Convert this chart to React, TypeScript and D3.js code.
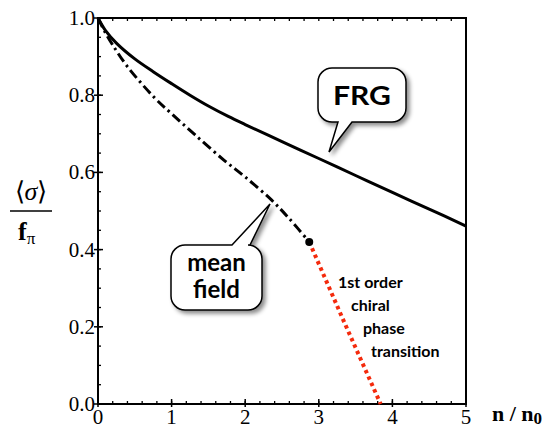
import React from "react";
import * as d3 from "d3";

const frgX = [0, 0.1, 0.25, 0.5, 0.75, 1.0, 1.25, 1.5, 1.77, 2.0, 2.5, 3.0, 3.5, 4.0, 4.5, 5.0];
const frgY = [1.0, 0.968, 0.935, 0.894, 0.861, 0.830, 0.800, 0.772, 0.745, 0.724, 0.680, 0.636, 0.592, 0.548, 0.505, 0.461];

const mfX = [0, 0.1, 0.2, 0.4, 0.77, 1.0, 1.32, 1.71, 2.0, 2.36, 2.6, 2.87];
const mfY = [1.0, 0.962, 0.930, 0.874, 0.793, 0.752, 0.697, 0.632, 0.588, 0.528, 0.480, 0.42];

const trX = [2.87, 3.35, 3.84];
const trY = [0.42, 0.21, 0.0];

const xTicks = [0, 1, 2, 3, 4, 5];
const yTicks = [0.0, 0.2, 0.4, 0.6, 0.8, 1.0];
const transitionLines = ["1st order", "chiral", "phase", "transition"];

const W = 558, H = 429;
const x = d3.scaleLinear().domain([0, 5]).range([98, 466]);
const y = d3.scaleLinear().domain([0, 1]).range([404, 18]);

const serif = "'Liberation Serif', 'Times New Roman', serif";
const sans = "Lato, 'Open Sans', sans-serif";

export default function App() {
  const line = d3
    .line<[number, number]>()
    .x((d) => x(d[0]))
    .y((d) => y(d[1]))
    .curve(d3.curveCatmullRom.alpha(0.5));
  const frgPath = line(frgX.map((v, i) => [v, frgY[i]]) as [number, number][]) || "";
  const mfPath = line(mfX.map((v, i) => [v, mfY[i]]) as [number, number][]) || "";
  const trPath =
    d3
      .line<[number, number]>()
      .x((d) => x(d[0]))
      .y((d) => y(d[1]))(trX.map((v, i) => [v, trY[i]]) as [number, number][]) || "";

  const minorY = d3.range(0, 1.0001, 0.05);
  const minorX = d3.range(0, 5.0001, 0.2);

  const x0 = x(0), x1 = x(5), y0 = y(0), y1 = y(1);

  const r = 14;
  const frgBubble = (() => {
    const L = 318, R = 406, T = 68, B = 122;
    return `M${L + r},${T} L${R - r},${T} A${r},${r} 0 0 1 ${R},${T + r} L${R},${B - r} A${r},${r} 0 0 1 ${R - r},${B} L352,${B} L329,152 L338,${B} L${L + r},${B} A${r},${r} 0 0 1 ${L},${B - r} L${L},${T + r} A${r},${r} 0 0 1 ${L + r},${T} Z`;
  })();
  const mfBubble = (() => {
    const L = 171, R = 262, T = 245, B = 310;
    return `M${L + r},${T} L232,${T} L270,204 L250,${T} L${R - r},${T} A${r},${r} 0 0 1 ${R},${T + r} L${R},${B - r} A${r},${r} 0 0 1 ${R - r},${B} L${L + r},${B} A${r},${r} 0 0 1 ${L},${B - r} L${L},${T + r} A${r},${r} 0 0 1 ${L + r},${T} Z`;
  })();

  const tStarts = [338, 351, 363, 371];
  const tBase = [288, 311, 334, 357];
  const serifStyle = { fontFamily: serif };
  const sansStyle = { fontFamily: sans };

  return (
    <svg width={W} height={H} style={{ position: "absolute", left: 0, top: 0, background: "#fff" }}>
      <defs>
        <filter id="shadow" x="-20%" y="-20%" width="150%" height="150%">
          <feDropShadow dx="3" dy="3" stdDeviation="2" floodColor="#000" floodOpacity="0.45" />
        </filter>
      </defs>
      <rect width={W} height={H} fill="#fff" />

      {minorY.map((v, i) => (
        <line key={"ly" + i} x1={x0} x2={x0 + 3} y1={y(v)} y2={y(v)} stroke="#000" strokeWidth={1.3} />
      ))}
      {yTicks.map((v, i) => (
        <line key={"my" + i} x1={x0 - 4} x2={x0 + 5} y1={y(v)} y2={y(v)} stroke="#000" strokeWidth={1.5} />
      ))}
      {minorX.map((v, i) => (
        <g key={"lx" + i}>
          <line x1={x(v)} x2={x(v)} y1={y0} y2={y0 - 3} stroke="#000" strokeWidth={1.3} />
          <line x1={x(v)} x2={x(v)} y1={y1} y2={y1 + 3} stroke="#000" strokeWidth={1.3} />
        </g>
      ))}
      {xTicks.map((v, i) => (
        <line key={"mx" + i} x1={x(v)} x2={x(v)} y1={y0 + 3} y2={y0 - 5} stroke="#000" strokeWidth={1.5} />
      ))}

      <rect x={x0} y={y1} width={x1 - x0} height={y0 - y1} fill="none" stroke="#000" strokeWidth={2} />

      {yTicks.map((v, i) => (
        <text key={"ty" + i} x={95} y={y(v) + 7} textAnchor="end" style={serifStyle} fontSize={21} fill="#000">
          {v.toFixed(1)}
        </text>
      ))}
      {xTicks.map((v, i) => (
        <text key={"tx" + i} x={x(v)} y={424} textAnchor="middle" style={serifStyle} fontSize={21} fill="#000">
          {v}
        </text>
      ))}

      <path d={frgPath} fill="none" stroke="#000" strokeWidth={3} />
      <path d={mfPath} fill="none" stroke="#000" strokeWidth={3} strokeDasharray="10,4,2.5,4" />
      <path d={trPath} fill="none" stroke="#f42a0c" strokeWidth={4} strokeDasharray="3.5,3.5" />
      <circle cx={x(mfX[mfX.length - 1])} cy={y(mfY[mfY.length - 1])} r={4} fill="#000" />

      <path d={frgBubble} fill="#fff" stroke="#000" strokeWidth={1.5} filter="url(#shadow)" />
      <text x={362} y={105} textAnchor="middle" style={sansStyle} fontWeight="bold" fontSize={26} textLength={58} lengthAdjust="spacingAndGlyphs" fill="#000">
        FRG
      </text>
      <path d={mfBubble} fill="#fff" stroke="#000" strokeWidth={1.5} filter="url(#shadow)" />
      <text x={216.5} y={271} textAnchor="middle" style={sansStyle} fontWeight="bold" fontSize={24} fill="#000">
        mean
      </text>
      <text x={216.5} y={298} textAnchor="middle" style={sansStyle} fontWeight="bold" fontSize={24} fill="#000">
        field
      </text>

      {transitionLines.map((s, i) => (
        <text key={"tr" + i} x={tStarts[i]} y={tBase[i]} style={sansStyle} fontWeight="bold" fontSize={16} fill="#000">
          {s}
        </text>
      ))}

      <text x={31} y={200} textAnchor="middle" style={serifStyle} fontSize={26} fill="#000">
        ⟨<tspan fontStyle="italic">σ</tspan>⟩
      </text>
      <line x1={10} x2={52} y1={211} y2={211} stroke="#000" strokeWidth={1.5} />
      <text x={18} y={240} style={serifStyle} fontSize={26} fontWeight="bold" fill="#000">
        f
        <tspan fontSize={17} fontWeight="normal" dy={4}>π</tspan>
      </text>

      <text x={492} y={421} style={serifStyle} fontSize={22} fontWeight="bold" fill="#000">
        n / n
        <tspan fontSize={17} dy={3}>0</tspan>
      </text>
    </svg>
  );
}
